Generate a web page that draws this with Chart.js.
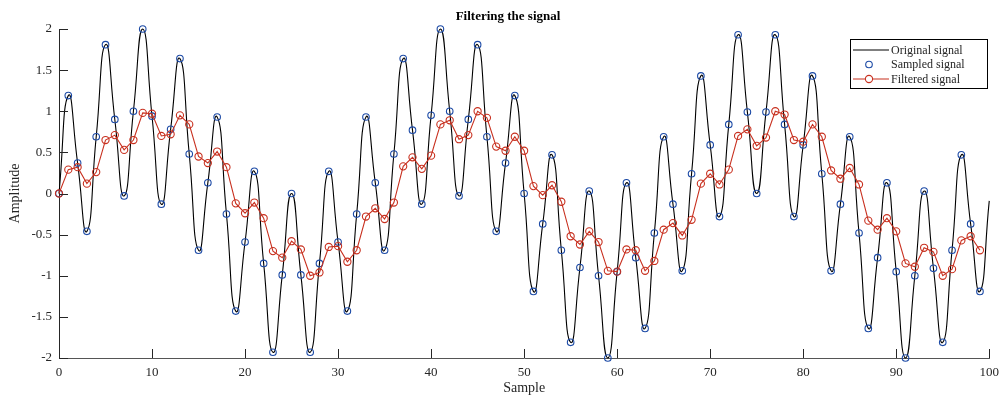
<!DOCTYPE html>
<html>
<head>
<meta charset="utf-8">
<title>Filtering the signal</title>
<script src="https://cdn.jsdelivr.net/npm/chart.js@4.4.1/dist/chart.umd.min.js"></script>
<style>
    html, body { margin: 0; padding: 0; background: #fff; }
    #wrap { width: 1006px; height: 398px; }
</style>
</head>
<body>
<div id="wrap"><canvas id="filterChart" width="1006" height="398"></canvas></div>
<script>
// values, one per sample (n = 0..99)
const sampledSignal = [
    0, 1.19, 0.37, -0.46, 0.69, 1.81, 0.90, -0.03, 1.00, 2.00,
    0.94, -0.13, 0.78, 1.64, 0.48, -0.69, 0.13, 0.93, -0.25, -1.43,
    -0.59, 0.27, -0.85, -1.93, -0.99, 0.00, -0.99, -1.93, -0.85, 0.27,
    -0.59, -1.43, -0.25, 0.93, 0.13, -0.69, 0.48, 1.64, 0.77, -0.13,
    0.95, 2.00, 1.00, -0.03, 0.90, 1.81, 0.69, -0.46, 0.37, 1.19,
    0, -1.19, -0.37, 0.47, -0.69, -1.81, -0.90, 0.03, -1.00, -2.00,
    -0.95, 0.13, -0.78, -1.64, -0.48, 0.69, -0.13, -0.94, 0.24, 1.43,
    0.59, -0.28, 0.84, 1.93, 0.99, 0.00, 0.99, 1.93, 0.84, -0.28,
    0.59, 1.43, 0.24, -0.94, -0.13, 0.69, -0.48, -1.64, -0.78, 0.13,
    -0.95, -2.00, -1.00, 0.03, -0.91, -1.81, -0.69, 0.47, -0.37, -1.19
];
// the continuous curve goes on to sample 100
const originalTail = [-0.09];

const filteredSignal = [
    0, 0.29, 0.32, 0.12, 0.26, 0.65, 0.71, 0.53, 0.65, 0.98,
    0.97, 0.70, 0.72, 0.95, 0.84, 0.45, 0.37, 0.51, 0.32, -0.12,
    -0.24, -0.11, -0.30, -0.70, -0.78, -0.58, -0.68, -1.00, -0.96, -0.65,
    -0.64, -0.83, -0.69, -0.28, -0.18, -0.31, -0.11, 0.33, 0.44, 0.30,
    0.46, 0.84, 0.89, 0.66, 0.71, 1.00, 0.92, 0.57, 0.52, 0.69,
    0.52, 0.09, -0.02, 0.10, -0.10, -0.52, -0.62, -0.46, -0.59, -0.94,
    -0.95, -0.68, -0.69, -0.94, -0.82, -0.44, -0.36, -0.51, -0.32, 0.12,
    0.24, 0.11, 0.29, 0.70, 0.78, 0.58, 0.68, 1.00, 0.96, 0.65,
    0.63, 0.84, 0.69, 0.28, 0.18, 0.31, 0.11, -0.33, -0.44, -0.30,
    -0.46, -0.85, -0.89, -0.66, -0.71, -1.00, -0.92, -0.57, -0.52, -0.69
];

const xTickValues = [0, 10, 20, 30, 40, 50, 60, 70, 80, 90, 100];
const yTickValues = [-2, -1.5, -1, -0.5, 0, 0.5, 1, 1.5, 2];
const legendLabels = ['Original signal', 'Sampled signal', 'Filtered signal'];

document.addEventListener('DOMContentLoaded', function () {
    const ctx = document.getElementById('filterChart');
    if (!ctx) {
        return;
    }

    const fontFamily = "'Liberation Serif', 'DejaVu Serif', serif";
    const textColor = '#262626';
    const axisColor = '#262626';
    const blue = '#1c4aa6';
    const red = '#c8301f';
    const tickLen = 9;

    Chart.defaults.font.family = fontFamily;
    Chart.defaults.color = textColor;

    const originalSignal = sampledSignal.concat(originalTail);

    // ticks point into the plot, like the reference
    const inwardTicks = {
        id: 'inwardTicks',
        afterDatasetsDraw(chart) {
            const { ctx, chartArea, scales } = chart;
            ctx.save();
            ctx.strokeStyle = axisColor;
            ctx.lineWidth = 1;
            ctx.beginPath();
            scales.x.ticks.forEach(function (t) {
                const px = Math.round(scales.x.getPixelForValue(t.value)) + 0.5;
                ctx.moveTo(px, chartArea.bottom);
                ctx.lineTo(px, chartArea.bottom - tickLen);
            });
            scales.y.ticks.forEach(function (t) {
                const py = Math.round(scales.y.getPixelForValue(t.value)) + 0.5;
                ctx.moveTo(chartArea.left, py);
                ctx.lineTo(chartArea.left + tickLen, py);
            });
            ctx.stroke();
            ctx.restore();
        }
    };

    const plotTitle = {
        id: 'plotTitle',
        afterDraw(chart) {
            const c = chart.ctx;
            c.save();
            c.font = 'bold 13px ' + fontFamily;
            c.fillStyle = '#000';
            c.textAlign = 'center';
            c.textBaseline = 'middle';
            c.fillText('Filtering the signal', 508, 17);
            c.restore();
        }
    };

    // boxed legend in the upper right corner of the plot
    const boxLegend = {
        id: 'boxLegend',
        afterDraw(chart) {
            const c = chart.ctx;
            const bx = 850.5, by = 39.5, bw = 137, bh = 49;
            const rowY = [50, 64.5, 79];
            c.save();
            c.fillStyle = '#fff';
            c.fillRect(bx, by, bw, bh);
            c.strokeStyle = '#000';
            c.lineWidth = 1;
            c.strokeRect(bx, by, bw, bh);
            c.font = '12px ' + fontFamily;
            c.textBaseline = 'middle';
            c.textAlign = 'left';
            chart.data.datasets.forEach(function (ds, i) {
                const y = rowY[i];
                if (ds.showLine !== false) {
                    c.strokeStyle = ds.borderColor;
                    c.lineWidth = ds.borderWidth;
                    c.beginPath();
                    c.moveTo(853, y);
                    c.lineTo(889, y);
                    c.stroke();
                }
                if (ds.pointRadius > 0) {
                    c.strokeStyle = ds.pointBorderColor;
                    c.lineWidth = ds.pointBorderWidth;
                    c.fillStyle = '#fff';
                    c.beginPath();
                    c.arc(869, y, ds.pointRadius, 0, Math.PI * 2);
                    c.fill();
                    c.stroke();
                }
                c.fillStyle = textColor;
                c.fillText(legendLabels[i], 891, y + 0.5);
            });
            c.restore();
        }
    };

    new Chart(ctx, {
        type: 'scatter',
        data: {
            datasets: [{
                label: legendLabels[0],
                data: originalSignal.map(function (v, i) { return { x: i, y: v }; }),
                showLine: true,
                borderColor: '#000',
                borderWidth: 1.1,
                pointRadius: 0,
                tension: 0.55,
                clip: 6,
                order: 2
            }, {
                label: legendLabels[1],
                data: sampledSignal.map(function (v, i) { return { x: i, y: v }; }),
                showLine: false,
                pointRadius: 3.3,
                pointBorderWidth: 1.1,
                pointBorderColor: blue,
                pointBackgroundColor: 'rgba(0,0,0,0)',
                clip: 8,
                order: 1
            }, {
                label: legendLabels[2],
                data: filteredSignal.map(function (v, i) { return { x: i, y: v }; }),
                showLine: true,
                borderColor: red,
                borderWidth: 1.1,
                pointRadius: 3.6,
                pointBorderWidth: 1.1,
                pointBorderColor: red,
                pointBackgroundColor: 'rgba(0,0,0,0)',
                tension: 0,
                clip: 8,
                order: 0
            }]
        },
        options: {
            responsive: false,
            animation: false,
            devicePixelRatio: 1,
            layout: {
                padding: { top: 29, right: 8, bottom: 0, left: 0 }
            },
            plugins: {
                legend: { display: false },
                title: { display: false },
                tooltip: { enabled: false }
            },
            scales: {
                x: {
                    type: 'linear',
                    min: 0,
                    max: 100,
                    afterFit: function (scale) { scale.height = 40; },
                    afterBuildTicks: function (scale) {
                        scale.ticks = xTickValues.map(function (v) { return { value: v }; });
                    },
                    ticks: {
                        color: textColor,
                        font: { size: 13 },
                        padding: 7,
                        maxRotation: 0,
                        autoSkip: false,
                        callback: function (v) { return String(v); }
                    },
                    grid: { display: false, drawTicks: false },
                    border: { display: true, color: '#555', width: 1 },
                    title: {
                        display: true,
                        text: 'Sample',
                        color: textColor,
                        font: { size: 14 },
                        padding: { top: 0, bottom: 1 }
                    }
                },
                y: {
                    min: -2,
                    max: 2,
                    afterFit: function (scale) { scale.width = 59; },
                    afterBuildTicks: function (scale) {
                        scale.ticks = yTickValues.map(function (v) { return { value: v }; });
                    },
                    ticks: {
                        color: textColor,
                        font: { size: 13 },
                        padding: 7,
                        autoSkip: false,
                        callback: function (v) { return String(v); }
                    },
                    grid: { display: false, drawTicks: false },
                    border: { display: true, color: axisColor, width: 1 },
                    title: {
                        display: true,
                        text: 'Amplitude',
                        color: textColor,
                        font: { size: 14 },
                        padding: { top: 7, bottom: 0 }
                    }
                }
            }
        },
        plugins: [inwardTicks, plotTitle, boxLegend]
    });
});
</script>
</body>
</html>
